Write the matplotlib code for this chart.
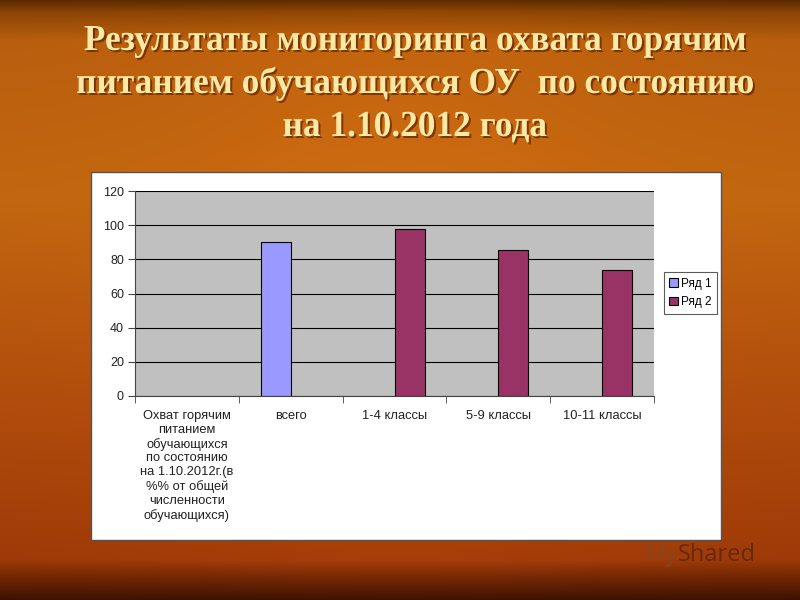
import numpy as np
import matplotlib
matplotlib.use('Agg')
import matplotlib.pyplot as plt
from matplotlib.textpath import TextPath
from matplotlib.font_manager import FontProperties
from matplotlib.patches import PathPatch, Rectangle
from matplotlib.transforms import Affine2D

# данные диаграммы
categories = ['Охват горячим\nпитанием\nобучающихся\nпо состоянию\nна 1.10.2012г.(в\n%% от общей\nчисленности\nобучающихся)',
              'всего', '1-4 классы', '5-9 классы', '10-11 классы']
series1 = [np.nan, 90, np.nan, np.nan, np.nan]
series2 = [np.nan, np.nan, 98, 85.5, 74]
series_names = ['Ряд 1', 'Ряд 2']
yticks = [0, 20, 40, 60, 80, 100, 120]
title_lines = ['Результаты мониторинга охвата горячим',
               'питанием обучающихся ОУ  по состоянию',
               'на 1.10.2012 года']

fig = plt.figure(figsize=(8, 6), dpi=100)

# фон слайда (градиент)
bg = fig.add_axes([0, 0, 1, 1])
yy = np.linspace(0, 600, 600)
stops_y = [0, 12, 40, 200, 420, 560, 578, 600]
stops_c = np.array([[0x5c, 0x2a, 0x00], [0x8a, 0x44, 0x04], [0xb8, 0x5e, 0x0e], [0xc2, 0x66, 0x10],
                    [0xae, 0x4a, 0x0c], [0x9e, 0x3a, 0x08], [0x70, 0x26, 0x04], [0x3c, 0x12, 0x00]]) / 255.0
col = np.stack([np.interp(yy, stops_y, stops_c[:, k]) for k in range(3)], axis=1)
xx = np.linspace(-1, 1, 800)
light = 1 + 0.06 * np.exp(-(xx / 0.6) ** 2)
img = np.clip(col[:, None, :] * light[None, :, None], 0, 1)
bg.imshow(img, extent=[0, 800, 600, 0], aspect='auto')
bg.set_xlim(0, 800)
bg.set_ylim(600, 0)
bg.axis('off')

# заголовок (узкий шрифт с засечками)
fp = FontProperties(family='Liberation Serif', weight='bold')
cap = TextPath((0, 0), 'Р', size=100, prop=fp).get_extents().height
sy = 24 / cap
w1 = TextPath((0, 0), title_lines[0], size=100, prop=fp).get_extents().width
sx = 661 / w1
baselines = [50, 93, 136]
for line, base in zip(title_lines, baselines):
    tp = TextPath((0, 0), line, size=100, prop=fp)
    ext = tp.get_extents()
    x0 = 415 - ext.width * sx / 2 - ext.x0 * sx
    for dx, c, a in [(2, '#4a1800', 0.6), (0, '#fce9a6', 1.0)]:
        tr = Affine2D().scale(sx, -sy).translate(x0 + dx, base + dx) + bg.transData
        bg.add_patch(PathPatch(tp, transform=tr, facecolor=c, edgecolor='none', alpha=a))

# белая область диаграммы
bg.add_patch(Rectangle((91, 172), 630, 368, facecolor='white', edgecolor='#555555', lw=1))

bg.text(645, 555, 'My', fontsize=17, color='#7a4a30', alpha=0.6, va='center', family='Open Sans')
bg.text(678, 555, 'Shared', fontsize=17, color='#4a2210', alpha=0.7, va='center', family='Open Sans')

# график
ax = fig.add_axes([135 / 800, 1 - 396 / 600, 519 / 800, 205 / 600])
ax.set_facecolor('#C0C0C0')
x = np.arange(len(categories))
w = 0.29
ax.bar(x - w / 2, series1, w, color='#9999FF', edgecolor='black', lw=0.8, label=series_names[0])
ax.bar(x + w / 2, series2, w, color='#993366', edgecolor='black', lw=0.8, label=series_names[1])

ax.set_xlim(-0.5, len(categories) - 0.5)
ax.set_ylim(0, 120)
ax.set_yticks(yticks)
ax.yaxis.grid(True, color='black', lw=0.8)
ax.set_axisbelow(True)
for s in ['top', 'right']:
    ax.spines[s].set_visible(False)
ax.spines['left'].set_color('#444444')
ax.spines['bottom'].set_color('#444444')

ax.set_xticks(x)
ax.set_xticklabels(categories, fontsize=9.3, family='Liberation Sans', color='#222222',
                   linespacing=1.2, va='top')
ax.tick_params(axis='x', which='major', length=0, pad=10)
ax.set_xticks(np.arange(-0.5, len(categories)), minor=True)
ax.tick_params(axis='x', which='minor', length=5, color='#444444')
ax.tick_params(axis='y', length=5, color='#444444', labelsize=9, labelcolor='#222222', pad=3)
for lbl in ax.get_yticklabels():
    lbl.set_family('Liberation Sans')

leg = ax.legend(loc='center left', bbox_to_anchor=(664 / 800, 1 - 293 / 600), bbox_transform=fig.transFigure,
                fontsize=8.5, frameon=True, fancybox=False, edgecolor='#333333', handlelength=0.7,
                handleheight=0.7, handletextpad=0.3, borderpad=0.45, labelspacing=0.55, borderaxespad=0)
leg.get_frame().set_linewidth(0.8)
for t in leg.get_texts():
    t.set_family('Liberation Sans')

fig.savefig('out.png', dpi=100)
